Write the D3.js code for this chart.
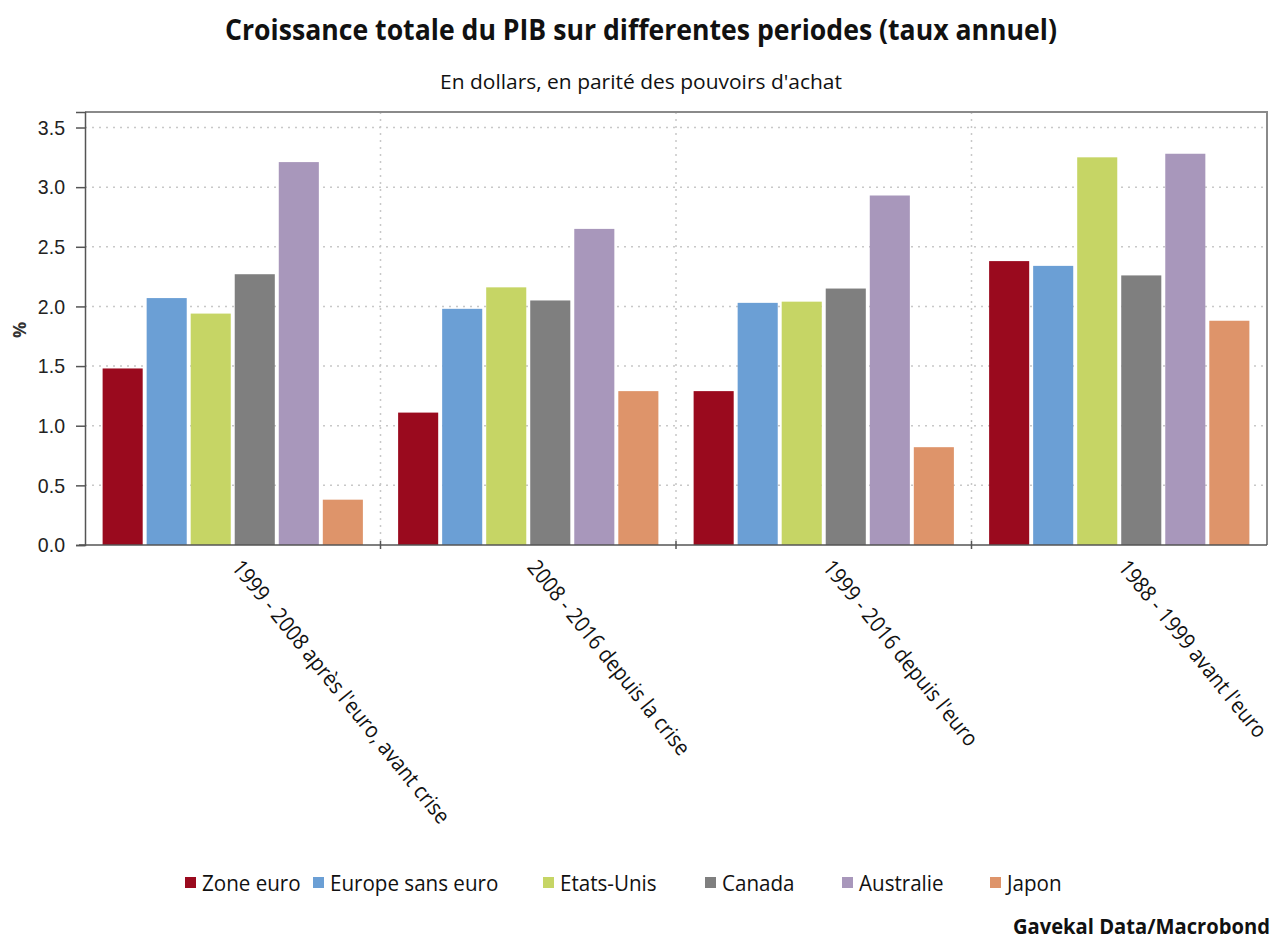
<!DOCTYPE html>
<html>
<head>
<meta charset="utf-8">
<script src="https://cdn.jsdelivr.net/npm/d3@7"></script>
<style>
  body { margin: 0; background: #fff; }
  svg { display: block; font-family: "Open Sans", "Noto Sans", sans-serif; }
</style>
</head>
<body>
<svg id="chart" width="1280" height="946"></svg>
<script>
// periods on the x axis
const periods = [
  "1999 - 2008 après l'euro, avant crise",
  "2008 - 2016 depuis la crise",
  "1999 - 2016 depuis l'euro",
  "1988 - 1999 avant l'euro"
];

const seriesNames = ["Zone euro", "Europe sans euro", "Etats-Unis", "Canada", "Australie", "Japon"];
const seriesColors = ["#9a0a1e", "#6b9fd5", "#c6d565", "#7f7f7f", "#a897bb", "#de946a"];

// annual growth %, one array per series, in period order
const zoneEuro = [1.48, 1.11, 1.29, 2.38];
const europeSansEuro = [2.07, 1.98, 2.03, 2.34];
const etatsUnis = [1.94, 2.16, 2.04, 3.25];
const canada = [2.27, 2.05, 2.15, 2.26];
const australie = [3.21, 2.65, 2.93, 3.28];
const japon = [0.38, 1.29, 0.82, 1.88];

const yTicks = [0, 0.5, 1, 1.5, 2, 2.5, 3, 3.5];

const values = [zoneEuro, europeSansEuro, etatsUnis, canada, australie, japon];

const svg = d3.select('#chart');
const plotL = 85, plotR = 1267, plotT = 112, plotB = 545;

// squeeze text horizontally to look like a condensed face
function condense(sel, k) {
  sel.each(function () {
    const w = this.getComputedTextLength();
    d3.select(this).attr('textLength', w * k).attr('lengthAdjust', 'spacingAndGlyphs');
  });
}

const x0 = d3.scaleBand().domain(periods).range([plotL, plotR]).paddingInner(0).paddingOuter(0);
const x1 = d3.scaleBand().domain(seriesNames).range([0, x0.bandwidth()]).paddingInner(0.09).paddingOuter(0.4);
const y = d3.scaleLinear().domain([0, 3.63]).range([plotB, plotT]);

// grid
const grid = svg.append('g');
grid.selectAll('line.h').data(yTicks.slice(1)).enter().append('line')
  .attr('x1', plotL).attr('x2', plotR)
  .attr('y1', d => y(d)).attr('y2', d => y(d))
  .attr('stroke', '#c8c8c8').attr('stroke-width', 1.5).attr('stroke-dasharray', '2,5');
grid.selectAll('line.v').data(periods.slice(1)).enter().append('line')
  .attr('x1', d => x0(d)).attr('x2', d => x0(d))
  .attr('y1', plotT).attr('y2', plotB)
  .attr('stroke', '#c8c8c8').attr('stroke-width', 1.5).attr('stroke-dasharray', '2,5');

// bars
const groups = svg.append('g').selectAll('g').data(periods).enter().append('g')
  .attr('transform', d => `translate(${x0(d)},0)`);
groups.selectAll('rect')
  .data((p, i) => seriesNames.map((s, j) => ({ s, v: values[j][i], c: seriesColors[j] })))
  .enter().append('rect')
  .attr('x', d => x1(d.s))
  .attr('width', x1.bandwidth())
  .attr('y', d => y(d.v))
  .attr('height', d => plotB - y(d.v))
  .attr('fill', d => d.c);

// frame top/right
svg.append('path')
  .attr('d', `M${plotL},${plotT}H${plotR}V${plotB}`)
  .attr('fill', 'none').attr('stroke', '#8a8a8a').attr('stroke-width', 2);

// y axis
const yAxis = svg.append('g').attr('transform', `translate(${plotL},0)`)
  .call(d3.axisLeft(y).tickValues(yTicks).tickFormat(d3.format('.1f')).tickSize(9).tickPadding(11));
yAxis.select('.domain').attr('stroke', '#555').attr('stroke-width', 1.5);
yAxis.selectAll('.tick line').attr('stroke', '#555').attr('stroke-width', 1.5);
yAxis.selectAll('.tick text').attr('font-size', 21).attr('fill', '#222').call(condense, 0.93);

// x axis line with boundary ticks
const xAxis = svg.append('g');
xAxis.append('line').attr('x1', plotL - 6).attr('x2', plotR).attr('y1', plotB).attr('y2', plotB)
  .attr('stroke', '#555').attr('stroke-width', 1.5);
xAxis.selectAll('line.t').data(periods.slice(1)).enter().append('line')
  .attr('x1', d => x0(d)).attr('x2', d => x0(d))
  .attr('y1', plotB - 4).attr('y2', plotB + 4)
  .attr('stroke', '#555').attr('stroke-width', 1.5);

xAxis.selectAll('text').data(periods).enter().append('text')
  .attr('transform', d => `translate(${x0(d) + x0.bandwidth() / 2 + 10},558) rotate(51)`)
  .attr('font-size', 22).attr('fill', '#111')
  .attr('dy', '0.7em')
  .text(d => d)
  .call(condense, 0.9);

// y label
svg.append('text').attr('transform', 'translate(26,330) rotate(-90)')
  .attr('text-anchor', 'middle').attr('font-size', 18).attr('font-weight', 'bold').attr('fill', '#333')
  .text('%');

// titles
svg.append('text').attr('x', 641).attr('y', 40).attr('text-anchor', 'middle')
  .attr('font-size', 29).attr('font-weight', 'bold').attr('fill', '#111')
  .text('Croissance totale du PIB sur differentes periodes (taux annuel)')
  .attr('textLength', 832).attr('lengthAdjust', 'spacingAndGlyphs');
svg.append('text').attr('x', 641).attr('y', 89).attr('text-anchor', 'middle')
  .attr('font-size', 20).attr('fill', '#111')
  .text("En dollars, en parité des pouvoirs d'achat")
  .attr('textLength', 402).attr('lengthAdjust', 'spacingAndGlyphs');

// legend
const legendX = [185, 313, 543, 705, 842, 990];
const legend = svg.append('g').selectAll('g').data(seriesNames).enter().append('g')
  .attr('transform', (d, i) => `translate(${legendX[i]},0)`);
legend.append('rect').attr('x', 0).attr('y', 877).attr('width', 11).attr('height', 11)
  .attr('fill', (d, i) => seriesColors[i]);
legend.append('text').attr('x', 17).attr('y', 891).attr('font-size', 21).attr('fill', '#111')
  .text(d => d).call(condense, 0.98);

svg.append('text').attr('x', 1270).attr('y', 934).attr('text-anchor', 'end')
  .attr('font-size', 21).attr('font-weight', 'bold').attr('fill', '#111')
  .text('Gavekal Data/Macrobond').call(condense, 0.96);
</script>
</body>
</html>
